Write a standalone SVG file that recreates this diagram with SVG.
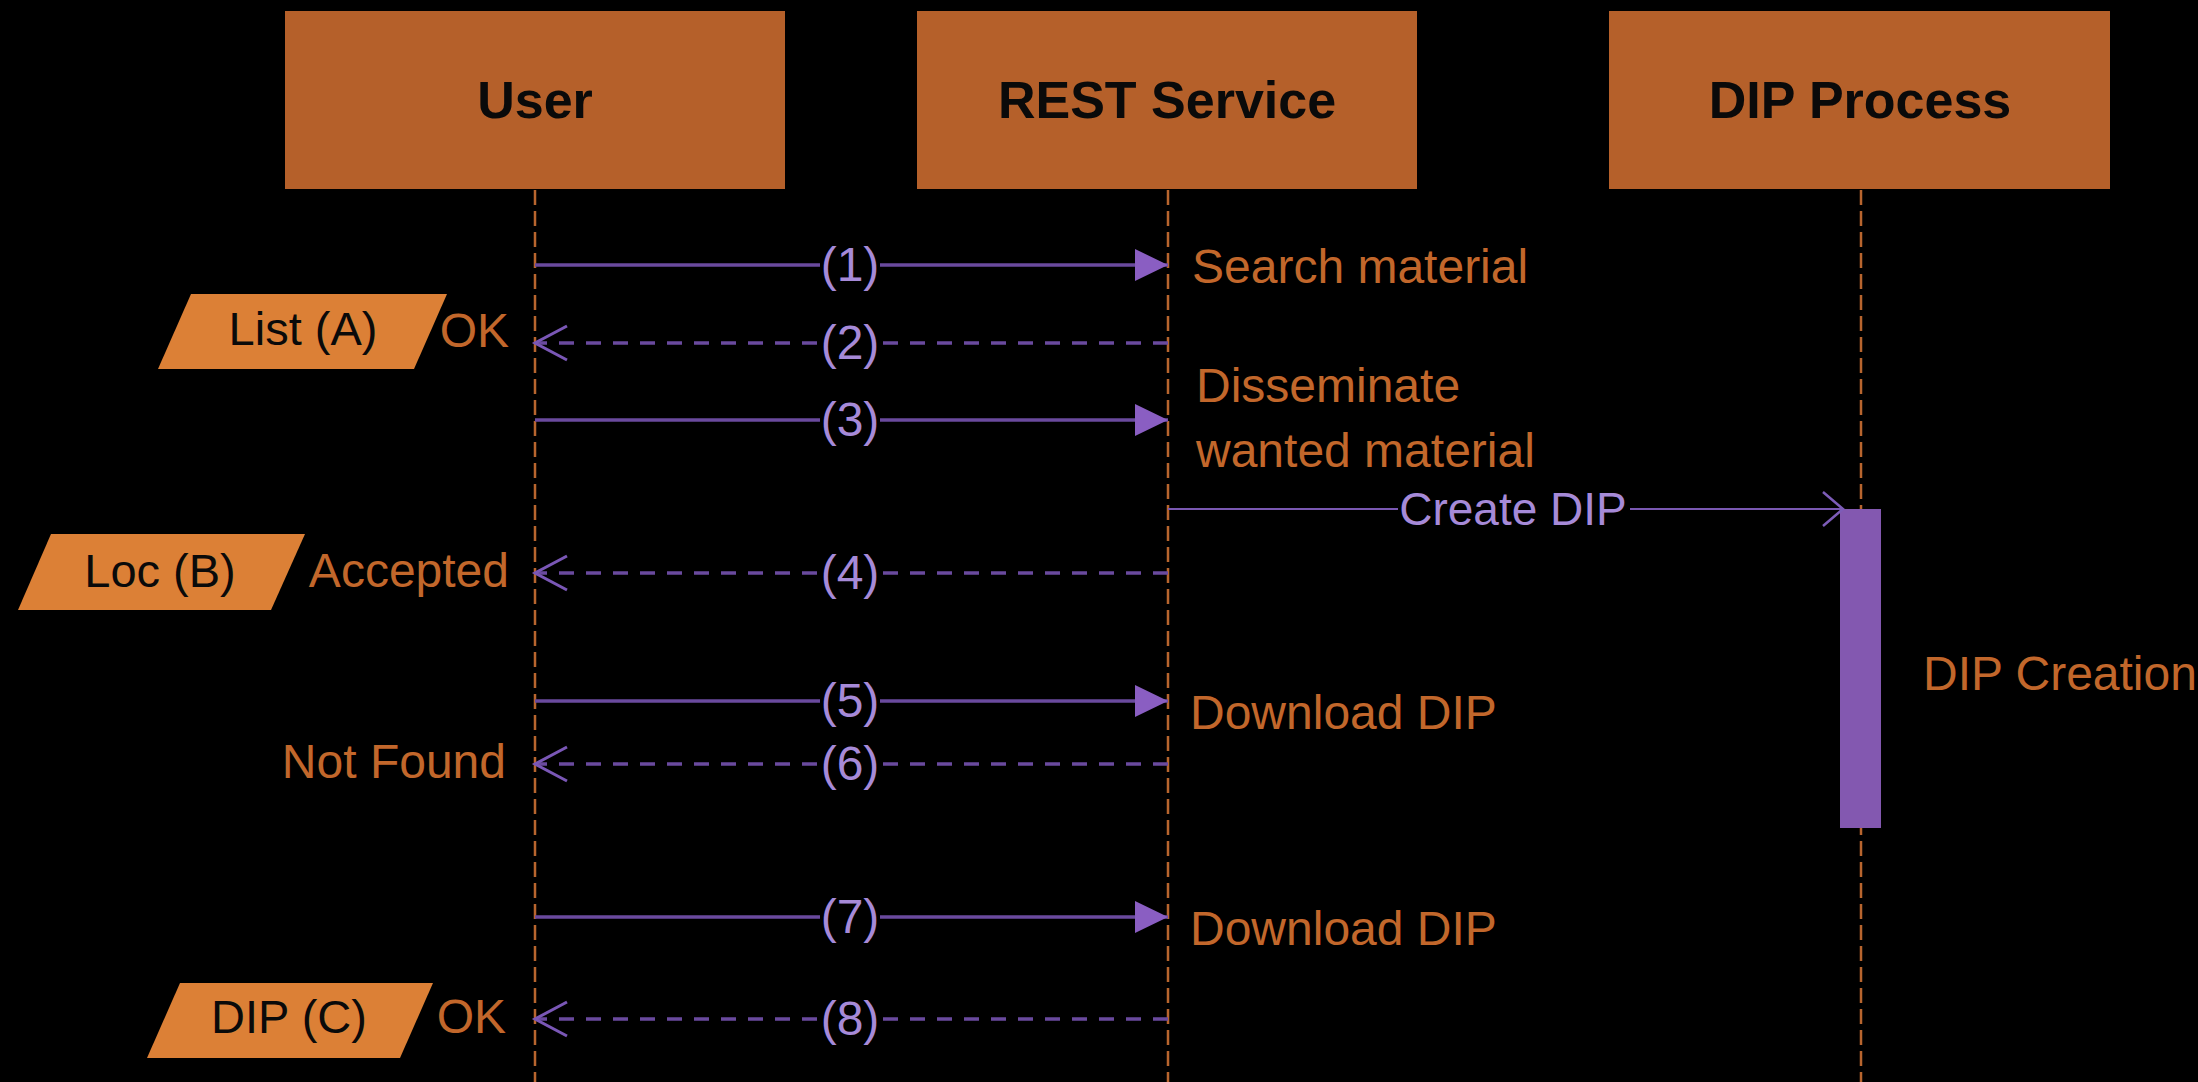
<svg xmlns="http://www.w3.org/2000/svg" width="2198" height="1082" viewBox="0 0 2198 1082">
<defs>
<style>
.box{fill:#B5602A}
.hdr{font-family:"Liberation Sans",Arial,sans-serif;font-weight:bold;font-size:52px;fill:#0a0a0a;text-anchor:middle}
.life{stroke:#B8652E;stroke-width:2.5;stroke-dasharray:15 6;fill:none}
.call{stroke:#6A4A9E;stroke-width:3.5;fill:none}
.ret{stroke:#6A4A9E;stroke-width:3.5;stroke-dasharray:15 12;fill:none}
.thin{stroke:#7A58B2;stroke-width:2;fill:none}
.num{font-family:"Liberation Sans",Arial,sans-serif;font-size:48px;fill:#A68AD8;text-anchor:middle}
.lbl{font-family:"Liberation Sans",Arial,sans-serif;font-size:48px;fill:#C2672B}
.end{text-anchor:end}
.para{fill:#DC8036}
.ptxt{font-family:"Liberation Sans",Arial,sans-serif;font-size:47px;fill:#0a0a0a;text-anchor:middle}
.bg{fill:#000}
</style>
<marker id="tri" markerUnits="userSpaceOnUse" markerWidth="34" markerHeight="32" refX="33" refY="16" orient="auto" overflow="visible">
<path d="M0,0 L33,16 L0,32 Z" fill="#8A5EC2"/>
</marker>
<marker id="open" markerUnits="userSpaceOnUse" markerWidth="34" markerHeight="36" refX="32" refY="17" orient="auto" overflow="visible">
<path d="M0,0 L32,17 L0,34" fill="none" stroke="#7A57B6" stroke-width="3"/>
</marker>
<marker id="openSm" markerUnits="userSpaceOnUse" markerWidth="24" markerHeight="36" refX="20" refY="17" orient="auto" overflow="visible">
<path d="M0,0 L20,17 L0,34" fill="none" stroke="#7D5CB8" stroke-width="2.5"/>
</marker>
</defs>
<rect x="0" y="0" width="2198" height="1082" fill="#000"/>

<g id="lifelines">
<line class="life" x1="535" y1="190" x2="535" y2="1082"/>
<line class="life" x1="1168" y1="190" x2="1168" y2="1082"/>
<line class="life" x1="1861" y1="190" x2="1861" y2="1082"/>
</g>

<g id="node-user"><rect class="box" x="285" y="11" width="500" height="178"/><text class="hdr" x="535" y="118">User</text></g>
<g id="node-rest"><rect class="box" x="917" y="11" width="500" height="178"/><text class="hdr" x="1167" y="118">REST Service</text></g>
<g id="node-dip"><rect class="box" x="1609" y="11" width="501" height="178"/><text class="hdr" x="1860" y="118">DIP Process</text></g>

<g id="activation"><rect x="1840" y="509" width="41" height="319" fill="#8358B0"/></g>

<g id="connectors">
<line class="call" x1="535" y1="265" x2="1168" y2="265" marker-end="url(#tri)"/>
<line class="ret" x1="1168" y1="343" x2="535" y2="343" marker-end="url(#open)"/>
<line class="call" x1="535" y1="420" x2="1168" y2="420" marker-end="url(#tri)"/>
<line class="thin" x1="1168" y1="509" x2="1843" y2="509" marker-end="url(#openSm)"/>
<line class="ret" x1="1168" y1="573" x2="535" y2="573" marker-end="url(#open)"/>
<line class="call" x1="535" y1="701" x2="1168" y2="701" marker-end="url(#tri)"/>
<line class="ret" x1="1168" y1="764" x2="535" y2="764" marker-end="url(#open)"/>
<line class="call" x1="535" y1="917" x2="1168" y2="917" marker-end="url(#tri)"/>
<line class="ret" x1="1168" y1="1019" x2="535" y2="1019" marker-end="url(#open)"/>
</g>

<g id="connector-labels">
<rect class="bg" x="820" y="245" width="60" height="40"/><text class="num" x="850" y="281">(1)</text>
<rect class="bg" x="820" y="323" width="60" height="40"/><text class="num" x="850" y="359">(2)</text>
<rect class="bg" x="820" y="400" width="60" height="40"/><text class="num" x="850" y="436">(3)</text>
<rect class="bg" x="1398" y="489" width="232" height="40"/><text class="num" x="1513" y="525" style="font-size:46px">Create DIP</text>
<rect class="bg" x="820" y="553" width="60" height="40"/><text class="num" x="850" y="589">(4)</text>
<rect class="bg" x="820" y="681" width="60" height="40"/><text class="num" x="850" y="717">(5)</text>
<rect class="bg" x="820" y="744" width="60" height="40"/><text class="num" x="850" y="780">(6)</text>
<rect class="bg" x="820" y="897" width="60" height="40"/><text class="num" x="850" y="933">(7)</text>
<rect class="bg" x="820" y="999" width="60" height="40"/><text class="num" x="850" y="1035">(8)</text>
</g>

<g id="annotations">
<text class="lbl" x="1192" y="283">Search material</text>
<text class="lbl" x="1196" y="402">Disseminate</text>
<text class="lbl" x="1196" y="467">wanted material</text>
<text class="lbl" x="1190" y="729">Download DIP</text>
<text class="lbl" x="1190" y="945">Download DIP</text>
<text class="lbl" x="1923" y="690">DIP Creation</text>
<text class="lbl end" x="509" y="347">OK</text>
<text class="lbl end" x="509" y="587">Accepted</text>
<text class="lbl end" x="506" y="778">Not Found</text>
<text class="lbl end" x="506" y="1033">OK</text>
</g>

<g id="data-list-a"><polygon class="para" points="191,294 447,294 414,369 158,369"/><text class="ptxt" x="303" y="345">List (A)</text></g>
<g id="data-loc-b"><polygon class="para" points="51,534 305,534 271,610 18,610"/><text class="ptxt" x="160" y="587">Loc (B)</text></g>
<g id="data-dip-c"><polygon class="para" points="180,983 433,983 400,1058 147,1058"/><text class="ptxt" x="289" y="1033">DIP (C)</text></g>
</svg>
